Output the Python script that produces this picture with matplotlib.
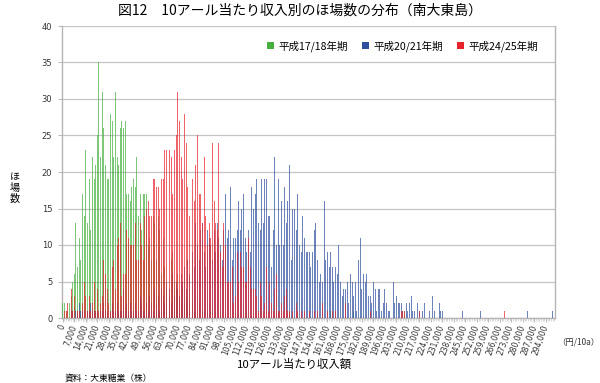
import matplotlib
matplotlib.use("Agg")
import matplotlib.pyplot as plt
from matplotlib.patches import Patch
import numpy as np

plt.rcParams['font.family'] = ['Noto Sans CJK JP', 'DejaVu Sans']

# income bins in 1,000 yen steps (0 .. 299,000 yen per 10a)
bins = list(range(0, 300))

h17_18 = [
    2, 2, 1, 1, 2, 3, 5, 6, 13, 7,
    11, 8, 17, 14, 23, 13, 19, 12, 22, 19,
    21, 25, 35, 22, 31, 26, 21, 19, 19, 28,
    27, 22, 31, 22, 21, 26, 27, 26, 27, 17,
    17, 16, 18, 19, 18, 22, 14, 17, 12, 17,
    17, 17, 10, 11, 8, 14, 13, 8, 14, 12,
    6, 11, 7, 4, 9, 3, 8, 9, 5, 4,
    6, 3, 2, 4, 2, 3, 1, 2, 1, 2,
    1, 1, 0, 2, 0, 1, 1, 0, 1, 0,
    1, 0, 0, 1, 0, 0, 1, 0, 0, 1,
    0, 0, 0, 0, 0, 1, 0, 0, 0, 0,
    0, 0, 1, 0, 0, 0, 0, 0, 0, 0,
    1, 0, 0, 0, 0, 0, 0, 0, 0, 0,
    0, 1, 0, 0, 0, 0, 0, 0, 1, 0,
    0, 0, 0, 1, 0, 0, 0, 0, 0, 0,
    0, 0, 0, 0, 0, 0, 0, 0, 0, 0,
    0, 0, 0, 1, 0, 0, 0, 0, 0, 0,
    0, 0, 0, 0, 0, 0, 0, 1, 0, 0,
    0, 0, 0, 0, 0, 0, 0, 0, 0, 0,
    0, 0, 0, 0, 0, 0, 0, 0, 0, 0,
    0, 0, 0, 0, 0, 0, 0, 0, 1, 0,
    0, 0, 0, 0, 0, 0, 0, 0, 0, 0,
    0, 0, 0, 0, 0, 0, 0, 0, 0, 0,
    0, 0, 0, 0, 0, 0, 0, 0, 0, 0,
    0, 0, 0, 0, 0, 0, 0, 0, 0, 0,
    0, 0, 0, 0, 0, 0, 0, 0, 0, 0,
    0, 0, 0, 0, 0, 0, 0, 0, 0, 0,
    0, 0, 0, 0, 0, 0, 0, 0, 0, 0,
    0, 0, 0, 0, 0, 0, 0, 0, 0, 0,
    0, 0, 0, 0, 0, 0, 0, 0, 0, 0,
]

h20_21 = [
    0, 0, 0, 0, 0, 1, 1, 0, 1, 1,
    2, 1, 1, 1, 0, 1, 1, 2, 1, 1,
    1, 1, 0, 1, 1, 2, 1, 1, 0, 1,
    2, 1, 1, 2, 1, 1, 1, 4, 1, 2,
    1, 2, 1, 1, 2, 1, 1, 3, 2, 1,
    1, 2, 1, 3, 2, 1, 4, 2, 3, 1,
    4, 3, 2, 5, 3, 4, 2, 6, 3, 5,
    4, 3, 6, 5, 7, 4, 8, 6, 5, 9,
    7, 13, 10, 8, 12, 13, 9, 7, 12, 11,
    10, 8, 12, 9, 13, 11, 10, 8, 12, 17,
    11, 12, 18, 8, 11, 11, 12, 16, 12, 15,
    17, 11, 9, 12, 9, 18, 15, 17, 19, 13,
    12, 19, 13, 19, 19, 14, 14, 7, 12, 22,
    10, 19, 10, 16, 10, 18, 13, 16, 21, 8,
    15, 15, 12, 17, 10, 9, 14, 11, 9, 9,
    9, 7, 9, 12, 13, 8, 5, 6, 5, 16,
    8, 9, 7, 9, 7, 5, 7, 6, 10, 5,
    3, 4, 4, 5, 2, 6, 5, 3, 5, 1,
    8, 11, 4, 6, 5, 6, 3, 3, 2, 5,
    4, 1, 4, 4, 1, 2, 4, 2, 1, 1,
    0, 5, 2, 3, 2, 2, 2, 1, 0, 2,
    1, 2, 3, 1, 1, 0, 2, 1, 0, 1,
    2, 1, 0, 1, 0, 3, 1, 0, 0, 2,
    1, 1, 0, 0, 0, 1, 0, 0, 0, 0,
    0, 0, 0, 1, 0, 0, 0, 0, 0, 0,
    0, 0, 0, 0, 1, 0, 0, 0, 0, 0,
    0, 0, 0, 0, 0, 0, 0, 0, 0, 0,
    0, 0, 0, 0, 0, 0, 0, 0, 0, 0,
    0, 0, 0, 1, 0, 0, 0, 0, 0, 0,
    0, 0, 0, 0, 0, 0, 0, 0, 1, 0,
]

h24_25 = [
    0, 1, 1, 2, 0, 4, 1, 3, 0, 1,
    1, 0, 2, 5, 3, 1, 3, 1, 2, 5,
    1, 4, 1, 2, 3, 8, 6, 4, 2, 1,
    7, 8, 4, 10, 11, 13, 3, 6, 6, 12,
    11, 10, 10, 10, 13, 8, 8, 13, 10, 8,
    14, 15, 16, 14, 14, 19, 19, 18, 18, 15,
    19, 19, 23, 23, 27, 23, 22, 17, 23, 25,
    31, 27, 22, 19, 28, 24, 18, 14, 16, 19,
    16, 21, 25, 17, 17, 13, 22, 14, 10, 13,
    11, 24, 16, 13, 12, 24, 9, 7, 13, 10,
    5, 5, 5, 7, 2, 3, 9, 5, 9, 7,
    7, 5, 5, 11, 7, 4, 4, 4, 3, 1,
    5, 3, 1, 2, 7, 1, 5, 2, 1, 4,
    6, 1, 1, 2, 1, 3, 4, 1, 1, 0,
    1, 0, 2, 1, 0, 1, 0, 1, 0, 0,
    1, 0, 0, 1, 0, 1, 0, 0, 2, 0,
    0, 1, 0, 0, 1, 0, 1, 0, 0, 0,
    0, 0, 2, 0, 0, 0, 0, 0, 0, 0,
    0, 0, 0, 0, 0, 0, 0, 1, 0, 0,
    0, 0, 0, 0, 0, 0, 0, 0, 0, 0,
    0, 0, 0, 0, 0, 0, 1, 1, 1, 0,
    0, 0, 0, 0, 0, 0, 0, 1, 0, 0,
    0, 0, 0, 0, 0, 0, 0, 0, 0, 0,
    0, 0, 0, 0, 0, 0, 0, 0, 0, 0,
    0, 0, 0, 0, 0, 0, 0, 0, 0, 0,
    0, 0, 0, 0, 0, 0, 0, 0, 0, 0,
    0, 0, 0, 0, 0, 0, 0, 0, 0, 1,
    0, 0, 0, 0, 0, 0, 0, 0, 0, 0,
    0, 0, 0, 0, 0, 0, 0, 0, 0, 0,
    0, 0, 0, 0, 0, 0, 0, 0, 0, 0,
]

series_names = ['平成17/18年期', '平成20/21年期', '平成24/25年期']
tick_step = 7

title = '図12　10アール当たり収入別のほ場数の分布（南大東島）'
xlabel = '10アール当たり収入額'
ylabel = 'ほ場数'
unit = '（円/10a）'
source = '資料：大東糖業（株）'

colors = ['#46B03F', '#2E4E9E', '#E8232B']

fig = plt.figure(figsize=(6.0, 3.83), dpi=100)
W, H = 600, 383
ax = fig.add_axes([62 / W, 1 - 318 / H, (555 - 62) / W, (318 - 26) / H])

x = np.array(bins)
for vals, c, name in zip([h17_18, h20_21, h24_25], colors, series_names):
    ax.bar(x, vals, width=0.6, color=c, alpha=0.7, linewidth=0, label=name, zorder=3)

ax.set_xlim(-0.5, 299.5)
ax.set_ylim(0, 40)
ax.set_yticks(range(0, 41, 5))
ax.yaxis.grid(True, color='#C4C4C4', linewidth=0.9, zorder=0)
ax.set_axisbelow(True)

tick_pos = x[::tick_step]
ax.set_xticks(tick_pos)
ax.set_xticklabels([f'{b * 1000:,}' for b in tick_pos], rotation=70,
                   ha='right', va='center', rotation_mode='anchor',
                   fontsize=5.5, color='#333333', family='DejaVu Sans')
ax.set_xticks(x, minor=True)
ax.tick_params(axis='x', which='major', length=3, color='#BBBBBB', pad=2)
ax.tick_params(axis='x', which='minor', length=2, color='#CCCCCC', width=0.5)
ax.tick_params(axis='y', length=3, color='#BBBBBB', labelsize=6, labelcolor='#333333', pad=4)
for lab in ax.get_yticklabels():
    lab.set_family('DejaVu Sans')

for s in ['left', 'right', 'bottom']:
    ax.spines[s].set_color('#B5B5B5')
    ax.spines[s].set_linewidth(1.0)
ax.spines['top'].set_visible(False)

handles = [Patch(facecolor=c, edgecolor='none') for c in colors]
leg = ax.legend(handles, series_names, loc='upper right', bbox_to_anchor=(0.985, 0.985),
                ncol=3, frameon=False, fontsize=7.6, handlelength=0.7, handleheight=0.7,
                handletextpad=0.4, columnspacing=1.3)

fig.text(300 / W, 1 - 11 / H, title, ha='center', va='center', fontsize=10)
fig.text(295 / W, 1 - 364 / H, xlabel, ha='center', va='center', fontsize=8.2)
for i, ch in enumerate(ylabel):
    fig.text(15 / W, 1 - (177 + i * 11) / H, ch, ha='center', va='center', fontsize=7.3)
fig.text(557 / W, 1 - 342 / H, unit, ha='left', va='center', fontsize=6, color='#333333')
fig.text(65 / W, 1 - 378 / H, source, ha='left', va='center', fontsize=6.3)

fig.savefig('out.png', dpi=100)
